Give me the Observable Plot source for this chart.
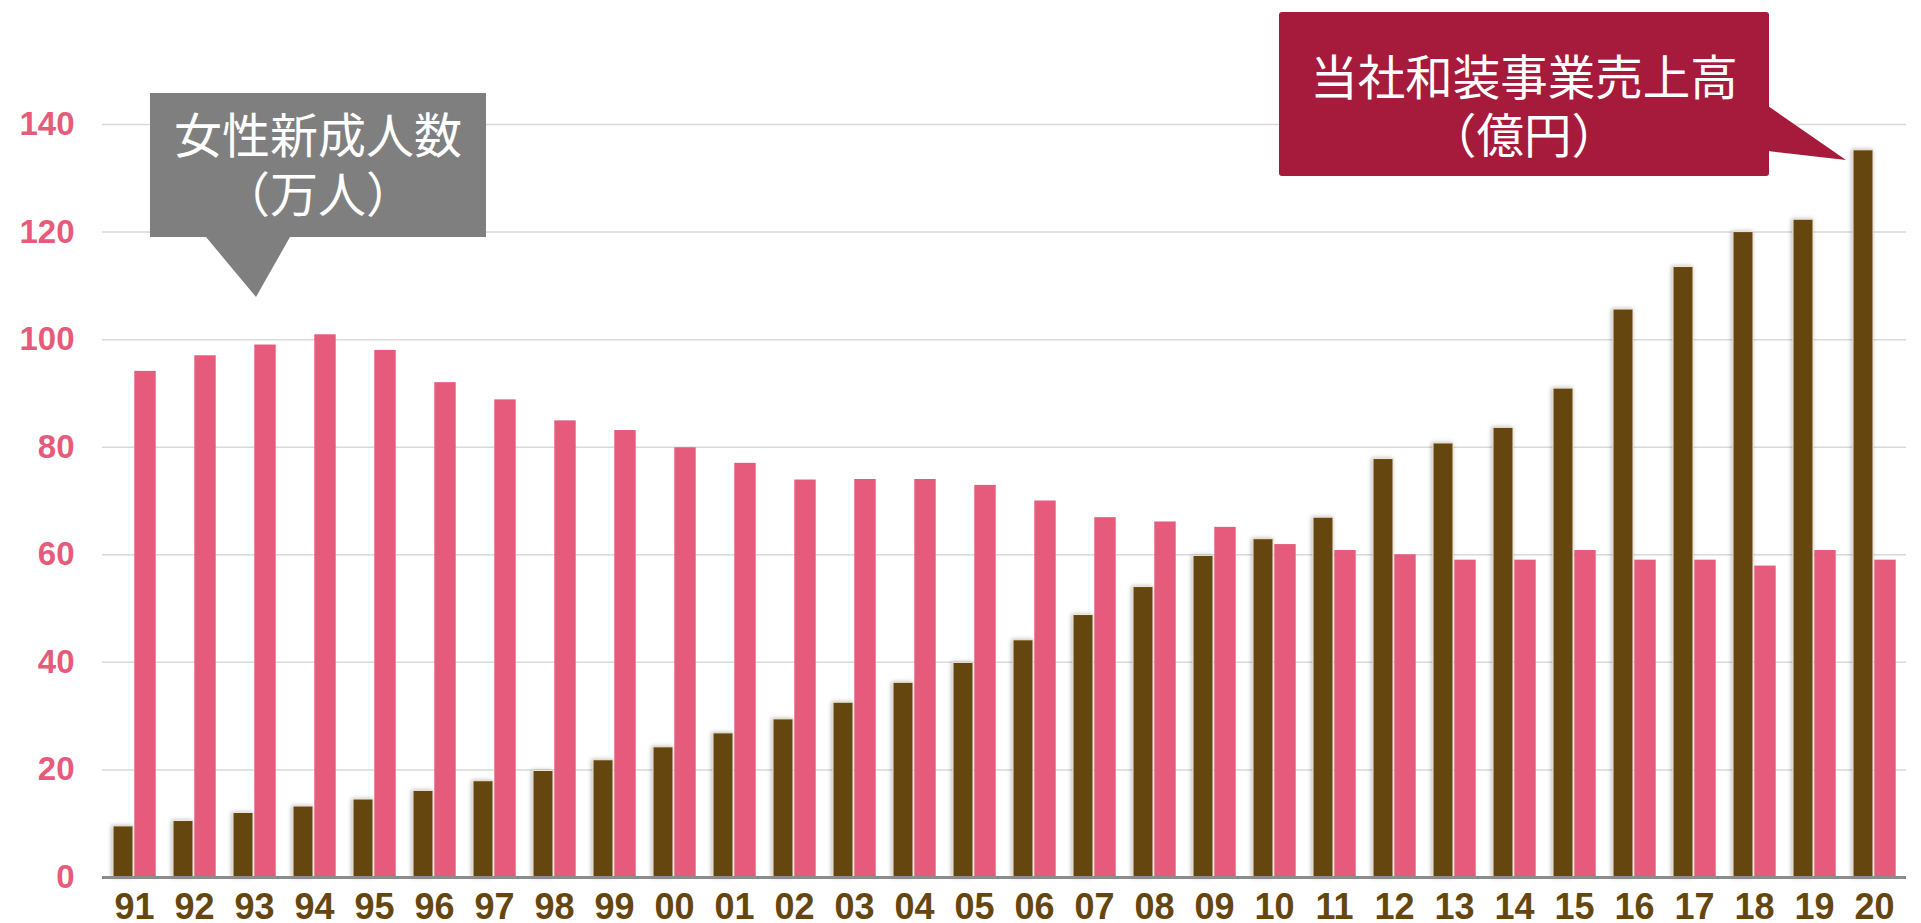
<!DOCTYPE html>
<html>
<head>
<meta charset="utf-8">
<script src="https://cdn.jsdelivr.net/npm/d3@7"></script>
<script src="https://cdn.jsdelivr.net/npm/@observablehq/plot@0.6"></script>
<style>
  html, body { margin: 0; padding: 0; background: #fff; overflow: hidden; }
  #chart { position: relative; width: 1921px; height: 923px; }
</style>
</head>
<body>
<div id="chart"></div>
<script>
// ---- data ----
const years = ["91","92","93","94","95","96","97","98","99","00",
               "01","02","03","04","05","06","07","08","09","10",
               "11","12","13","14","15","16","17","18","19","20"];
// 当社和装事業売上高（億円）
const sales = [9.5, 10.5, 12.0, 13.2, 14.5, 16.1, 17.9, 19.8, 21.8, 24.2,
               26.8, 29.4, 32.5, 36.2, 39.9, 44.1, 48.8, 54.0, 59.8, 62.9,
               66.9, 77.8, 80.7, 83.6, 90.9, 105.6, 113.5, 120.0, 122.3, 135.2];
// 女性新成人数（万人）
const women = [94.1, 97.0, 99.0, 100.9, 98.0, 92.0, 88.8, 84.9, 83.1, 79.9,
               77.0, 73.9, 74.0, 74.0, 72.9, 70.0, 66.9, 66.1, 65.1, 61.9,
               60.8, 60.0, 59.0, 59.0, 60.8, 59.0, 59.0, 57.9, 60.8, 59.0];
const yTicks = [0, 20, 40, 60, 80, 100, 120, 140];
const womenLabel = ["女性新成人数", "（万人）"];
const salesLabel = ["当社和装事業売上高", "（億円）"];

const salesData = years.map((y, i) => ({year: y, value: sales[i]}));
const womenData = years.map((y, i) => ({year: y, value: women[i]}));

const BROWN = "#66460f";
const PINK = "#e65b7c";

const chart = Plot.plot({
  width: 1921,
  height: 923,
  marginTop: 124,
  marginBottom: 46,
  marginLeft: 102,
  marginRight: 15,
  style: {background: "#fff", fontFamily: "'Liberation Sans', Arial, sans-serif", overflow: "visible"},
  x: {domain: years, padding: 0, label: null},
  y: {domain: [0, 140], label: null},
  marks: [
    Plot.gridY(yTicks, {stroke: "#d9d9d9", strokeOpacity: 1, strokeWidth: 1.5}),
    Plot.barY(salesData, {x: "year", y: "value", fill: BROWN, stroke: "#efe8d8", strokeWidth: 1, insetLeft: 9, insetRight: 31}),
    Plot.barY(womenData, {x: "year", y: "value", fill: PINK, insetLeft: 30.3, insetRight: 8.3}),
    Plot.ruleY([0], {stroke: "#8c8c8c", strokeWidth: 3}),
    Plot.axisY(yTicks, {tickSize: 0, tickPadding: 28, fontSize: 33, fontWeight: "bold", color: PINK, fill: PINK, label: null}),
    Plot.axisX({tickSize: 0, tickPadding: 16, fontSize: 36, fontWeight: "bold",
                fontFamily: "'Liberation Sans Narrow', 'Arial Narrow', sans-serif",
                color: BROWN, fill: BROWN, label: null})
  ]
});

document.getElementById("chart").appendChild(chart);

// soft shadow on the sales bars
const barGroups = chart.querySelectorAll('g[aria-label="bar"]');
if (barGroups.length) barGroups[0].setAttribute("style", "filter: drop-shadow(-1px 0px 2px rgba(0,0,0,0.28))");

// ---- callouts (annotation layer) ----
const svg = d3.select(chart);
const ann = svg.append("g").attr("font-family", "'Noto Sans CJK JP', 'Noto Sans', sans-serif");

// grey callout: 女性新成人数
ann.append("path")
  .attr("d", "M150,93 H486 V237 H290 L256,297 L206,237 H150 Z")
  .attr("fill", "#7f7f7f");
const wt = ann.append("text")
  .attr("text-anchor", "middle")
  .attr("font-size", 48).attr("fill", "#fff");
wt.selectAll("tspan").data(womenLabel).join("tspan")
  .attr("x", 318).attr("y", (d, i) => 132 + i * 59)
  .attr("dominant-baseline", "central").text(d => d);

// red callout: 当社和装事業売上高
ann.append("rect")
  .attr("x", 1279).attr("y", 12).attr("width", 490).attr("height", 164).attr("rx", 3)
  .attr("fill", "#a61b3b");
ann.append("path")
  .attr("d", "M1768,106 L1846,160 L1768,151 Z")
  .attr("fill", "#a61b3b");
const st = ann.append("text")
  .attr("text-anchor", "middle")
  .attr("font-size", 47.5).attr("fill", "#fff");
st.selectAll("tspan").data(salesLabel).join("tspan")
  .attr("x", 1524).attr("y", (d, i) => 74 + i * 58)
  .attr("dominant-baseline", "central").text(d => d);
</script>
</body>
</html>
